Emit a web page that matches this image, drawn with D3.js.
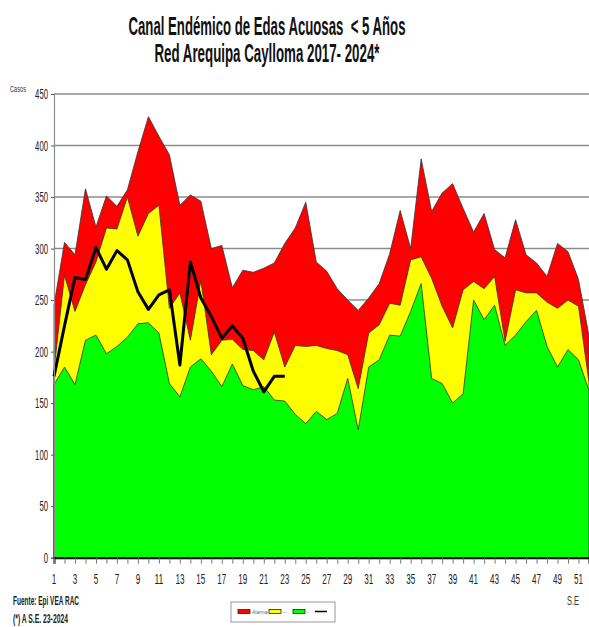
<!DOCTYPE html>
<html>
<head>
<meta charset="utf-8">
<script src="https://d3js.org/d3.v7.min.js"></script>
<style>
  body{ margin:0; background:#fff; }
  svg text{ font-family:"Liberation Sans Narrow","Arial Narrow","Liberation Sans",sans-serif; }
  .titulo{ white-space:pre; }
</style>
</head>
<body>
<script>
// semanas epidemiologicas
var semanas = d3.range(1, 53);
var xLabels = d3.range(1, 52, 2);
var yTicks = [0, 50, 100, 150, 200, 250, 300, 350, 400, 450];

// zona de alarma (techo rojo)
var alarma = [245, 306, 294, 358, 321, 351, 341, 357, 394, 428, 409, 391, 342, 352, 346, 300,
  303, 262, 279, 277, 281, 286, 305, 320, 345, 287, 278, 261, 250, 240, 252, 266,
  295, 337, 300, 387, 336, 354, 363, 339, 316, 334, 299, 291, 328, 294, 286, 273,
  305, 297, 270, 215];
// zona de seguridad (amarillo)
var seguridad = [182, 274, 239, 265, 287, 320, 319, 350, 312, 334, 342, 242, 257, 211, 269, 197,
  211, 212, 202, 201, 192, 219, 185, 206, 205, 206, 203, 201, 197, 164, 218, 226,
  247, 245, 289, 292, 271, 244, 223, 260, 268, 261, 273, 210, 260, 257, 257, 248,
  242, 250, 244, 170];
// zona de exito (verde)
var exito = [168, 185, 168, 211, 216, 198, 205, 214, 227, 228, 218, 169, 156, 185, 193, 181,
  166, 188, 167, 163, 166, 153, 152, 139, 130, 142, 134, 140, 174, 124, 185, 192,
  216, 215, 239, 266, 174, 169, 150, 159, 250, 231, 245, 206, 216, 229, 240, 205,
  185, 202, 192, 162];
// casos 2024 hasta S.E. 23
var casos2024 = [176, 225, 272, 270, 301, 280, 298, 289, 258, 241, 255, 260, 187, 287, 252, 234,
  213, 225, 213, 181, 161, 176, 176];

var width = 589, height = 627;
var svg = d3.select("body").append("svg")
  .attr("width", width)
  .attr("height", height);

var x = d3.scaleLinear().domain([1, 52]).range([54, 589]);
var y = d3.scaleLinear().domain([0, 450]).range([557.7, 94]);

// titulo
svg.append("text").attr("class", "titulo").attr("x", 267).attr("y", 35).attr("text-anchor", "middle")
  .attr("font-size", 25).attr("font-weight", "bold").attr("fill", "#111")
  .attr("textLength", 277).attr("lengthAdjust", "spacingAndGlyphs")
  .text("Canal Endémico de Edas Acuosas  < 5 Años");
svg.append("text").attr("class", "titulo").attr("x", 267).attr("y", 61.5).attr("text-anchor", "middle")
  .attr("font-size", 25).attr("font-weight", "bold").attr("fill", "#111")
  .attr("textLength", 225).attr("lengthAdjust", "spacingAndGlyphs")
  .text("Red Arequipa Caylloma 2017- 2024*");

// grilla
svg.append("g").selectAll("line").data(yTicks.slice(1)).join("line")
  .attr("x1", 54).attr("x2", 589)
  .attr("y1", function(d){ return y(d); }).attr("y2", function(d){ return y(d); })
  .attr("stroke", "#8c8c8c").attr("stroke-width", 1.5);

function area(vals){
  return d3.area()
    .x(function(d, i){ return x(semanas[i]); })
    .y0(y(0))
    .y1(function(d){ return y(d); })(vals);
}

svg.append("path").attr("d", area(alarma)).attr("fill", "#ff0000")
  .attr("stroke", "#333").attr("stroke-width", 0.8);
svg.append("path").attr("d", area(seguridad)).attr("fill", "#ffff00")
  .attr("stroke", "#333").attr("stroke-width", 0.8);
svg.append("path").attr("d", area(exito)).attr("fill", "#00ff00")
  .attr("stroke", "#333").attr("stroke-width", 0.8);

var line = d3.line()
  .x(function(d, i){ return x(semanas[i]); })
  .y(function(d){ return y(d); });
svg.append("path").attr("d", line(casos2024)).attr("fill", "none")
  .attr("stroke", "#000").attr("stroke-width", 3).attr("stroke-linejoin", "round");

// eje y
var yAxis = svg.append("g").attr("transform", "translate(54,0)")
  .call(d3.axisLeft(y).tickValues(yTicks).tickSize(3).tickFormat(d3.format("d")));
yAxis.select(".domain").attr("stroke", "#8c8c8c").attr("stroke-width", 1.2);
yAxis.selectAll(".tick line").attr("stroke", "#555");
yAxis.selectAll("text").attr("font-size", 15).attr("fill", "#222").attr("x", -6)
  .attr("font-family", "Liberation Sans Narrow, Arial Narrow, sans-serif")
  .attr("textLength", function(d){ return String(d).length * 4.3; })
  .attr("lengthAdjust", "spacingAndGlyphs");

// eje x
var xAxis = svg.append("g").attr("transform", "translate(0," + y(0) + ")")
  .call(d3.axisBottom(x).tickValues(semanas).tickSize(6).tickFormat(""));
xAxis.select(".domain").attr("stroke", "#000").attr("stroke-width", 2);
xAxis.selectAll(".tick line").attr("stroke", "#777");
svg.append("g").selectAll("text").data(xLabels).join("text")
  .attr("x", function(d){ return x(d); }).attr("y", 584)
  .attr("text-anchor", "middle").attr("font-size", 15).attr("fill", "#222")
  .attr("textLength", function(d){ return String(d).length * 4.5; })
  .attr("lengthAdjust", "spacingAndGlyphs")
  .text(function(d){ return d; });

svg.append("text").attr("x", 10).attr("y", 92).attr("font-size", 9)
  .attr("textLength", 16).attr("lengthAdjust", "spacingAndGlyphs").attr("fill", "#333")
  .text("Casos");
svg.append("text").attr("x", 567).attr("y", 605).attr("font-size", 13)
  .attr("textLength", 12).attr("lengthAdjust", "spacingAndGlyphs").attr("fill", "#333")
  .text("S.E");

svg.append("text").attr("x", 13).attr("y", 605).attr("font-size", 13).attr("font-weight", "bold")
  .attr("textLength", 66).attr("lengthAdjust", "spacingAndGlyphs").attr("fill", "#222")
  .text("Fuente: Epi VEA RAC");
svg.append("text").attr("x", 13).attr("y", 623).attr("font-size", 13).attr("font-weight", "bold")
  .attr("textLength", 55).attr("lengthAdjust", "spacingAndGlyphs").attr("fill", "#222")
  .text("(*) A S.E. 23-2024");

// leyenda
var leg = svg.append("g");
leg.append("rect").attr("x", 231).attr("y", 602).attr("width", 104).attr("height", 20)
  .attr("fill", "#fff").attr("stroke", "#999").attr("stroke-width", 1);
var legItems = [
  {color: "#ff0000", label: "Alarma", x: 238},
  {color: "#ffff00", label: "--", x: 269},
  {color: "#00ff00", label: "-", x: 293}
];
legItems.forEach(function(d){
  leg.append("rect").attr("x", d.x).attr("y", 609.5).attr("width", 12).attr("height", 4)
    .attr("fill", d.color).attr("stroke", "#222").attr("stroke-width", 0.8);
  leg.append("text").attr("x", d.x + 14).attr("y", 613.5).attr("font-size", 5)
    .attr("fill", "#666").text(d.label);
});
leg.append("line").attr("x1", 315).attr("x2", 327).attr("y1", 611.5).attr("y2", 611.5)
  .attr("stroke", "#000").attr("stroke-width", 1.5);
</script>
</body>
</html>
